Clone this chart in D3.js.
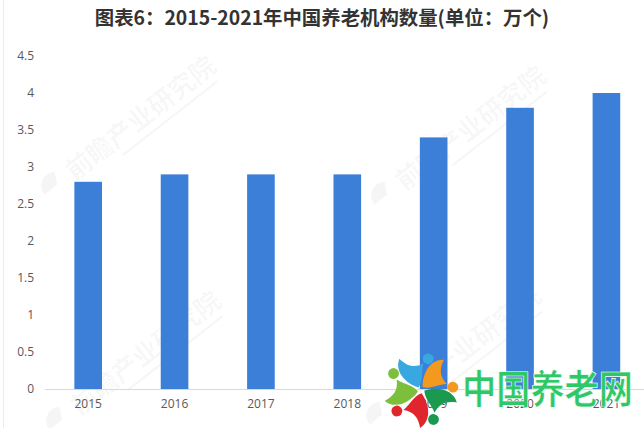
<!DOCTYPE html>
<html><head><meta charset="utf-8">
<script src="https://cdn.jsdelivr.net/npm/d3@7"></script>
<style>html,body{margin:0;padding:0;background:#fff;}svg{display:block;}</style>
</head><body>
<script>
const years = ["2015","2016","2017","2018","2019","2020","2021"];
const values = [2.8, 2.9, 2.9, 2.9, 3.4, 3.8, 4.0];
const yTicks = [0,0.5,1,1.5,2,2.5,3,3.5,4,4.5];
const title = "图表6：2015-2021年中国养老机构数量(单位：万个)";
const watermark = "前瞻产业研究院";
const logoText = "中国养老网";

const W = 644, H = 428;
const svg = d3.select("body").append("svg").attr("width", W).attr("height", H);
svg.append("rect").attr("width", W).attr("height", H).attr("fill", "#fff");
svg.append("line").attr("x1",3.5).attr("x2",3.5).attr("y1",0).attr("y2",H).attr("stroke","#ececec");

const x = d3.scaleBand().domain(years).range([45, 649.6]).paddingInner(0.68).paddingOuter(0.34);
const y = d3.scaleLinear().domain([0, 4.5]).range([389, 56]);

// watermarks
const wm = svg.append("g").attr("fill", "#000").attr("fill-opacity", 0.04)
  .attr("font-family", "Noto Sans CJK SC").attr("font-weight", "bold").attr("font-size", 26);
[[70,185],[400,195],[75,420],[395,415]].forEach(([px,py]) => {
  const g = wm.append("g").attr("transform", `translate(${px},${py}) rotate(-38)`);
  g.append("path").attr("d", "M-26,-8 A14,14 0 0 1 -4,-20 L-10,-8 Z");
  g.append("text").attr("x", 6).attr("y", 0).text(watermark);
  g.append("rect").attr("x", 60).attr("y", 8).attr("width", 120).attr("height", 2);
});

// axis baseline
svg.append("line").attr("x1", 45).attr("x2", W).attr("y1", y(0)+0.5).attr("y2", y(0)+0.5)
  .attr("stroke", "#d9d9d9");

// bars
svg.append("g").selectAll("rect").data(values).join("rect")
  .attr("x", (d,i) => x(years[i])).attr("width", x.bandwidth())
  .attr("y", d => y(d)).attr("height", d => y(0) - y(d))
  .attr("fill", "#3b7fd9");

// y axis
const yAxis = svg.append("g").attr("transform", "translate(34,0)")
  .call(d3.axisLeft(y).tickValues(yTicks).tickSize(0).tickPadding(0).tickFormat(d3.format("~g")));
yAxis.select(".domain").remove();
yAxis.selectAll("text").attr("font-family", "Open Sans").attr("font-size", 12).attr("fill", "#595959");

// x axis
const xAxis = svg.append("g").attr("transform", `translate(0,${y(0)})`)
  .call(d3.axisBottom(x).tickSize(0).tickPadding(10));
xAxis.select(".domain").remove();
xAxis.selectAll("text").attr("font-family", "Open Sans").attr("font-size", 12).attr("fill", "#595959");

// title
svg.append("text").attr("x", 322).attr("y", 25).attr("text-anchor", "middle")
  .attr("font-family", "Noto Sans CJK SC").attr("font-weight", "bold").attr("font-size", 19.4)
  .attr("fill", "#333").text(title);

// logo icon
const icon = svg.append("g").attr("transform", "translate(421,390) scale(1.2)");
const petals = [["#3aa8e0",-90],["#f39a1e",-18],["#1a9a4e",54],["#e0262c",126],["#7cbf3a",198]];
petals.forEach(([c,a]) => {
  const g = icon.append("g").attr("transform", `rotate(${a})`);
  g.append("path").attr("d", "M2,-2 C6,-14 16,-22 26,-18 C20,-12 18,-6 22,2 C14,0 8,2 2,-2 Z").attr("fill", c);
  g.append("circle").attr("cx", 26).attr("cy", 6).attr("r", 4.5).attr("fill", c);
});
svg.append("text").attr("transform", "translate(462,403) scale(0.95,1.08)")
  .attr("font-family", "Noto Sans CJK SC").attr("font-weight", "bold").attr("font-size", 36)
  .attr("fill", "#2fc866").attr("stroke", "#fff").attr("stroke-width", 0.6).text(logoText);
</script>
</body></html>
